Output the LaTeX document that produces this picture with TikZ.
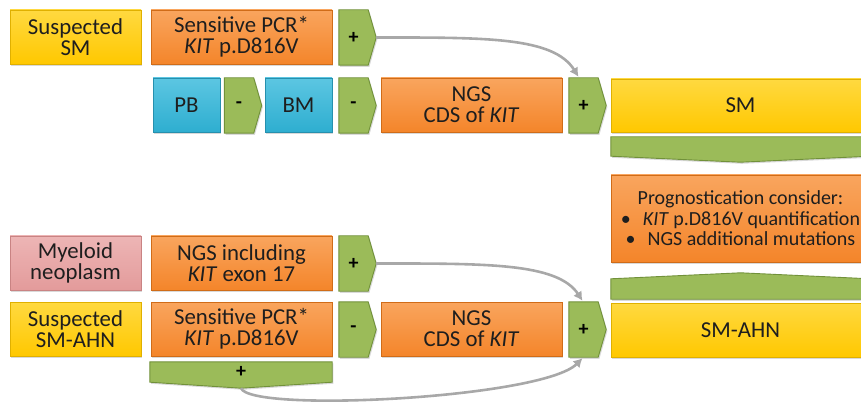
\documentclass[tikz,border=0pt]{standalone}
\usepackage{fontspec}
\setmainfont{Carlito}
\usetikzlibrary{calc,shadows,backgrounds,arrows.meta}
\definecolor{ylw}{HTML}{FFC800}
\definecolor{ylwtop}{HTML}{FFD940}
\definecolor{ylwbd}{HTML}{E0B000}
\definecolor{org}{HTML}{F4852A}
\definecolor{orgtop}{HTML}{F9A55E}
\definecolor{orgbd}{HTML}{D06C18}
\definecolor{blu}{HTML}{2EAED0}
\definecolor{blutop}{HTML}{5CC6E2}
\definecolor{blubd}{HTML}{2690AE}
\definecolor{grn}{HTML}{9BBB59}
\definecolor{grnbd}{HTML}{71913A}
\definecolor{pnk}{HTML}{E39B9B}
\definecolor{pnktop}{HTML}{EDB5B5}
\definecolor{pnkbd}{HTML}{C98383}
\definecolor{arr}{HTML}{A8A8A8}
\definecolor{txt}{HTML}{1E1E1E}
\begin{document}
\begin{tikzpicture}[x=1pt,y=-1pt,
  box/.style={rectangle, inner sep=0pt, align=center, text=txt,
    font=\fontsize{22.8}{21}\selectfont, line width=0.8pt,
    drop shadow={shadow xshift=1.2pt,shadow yshift=-1.6pt,opacity=0.3}},
  ybox/.style={box, draw=ylwbd, top color=ylwtop, bottom color=ylw},
  obox/.style={box, draw=orgbd, top color=orgtop, bottom color=org},
  bbox/.style={box, draw=blubd, top color=blutop, bottom color=blu},
  pbox/.style={box, draw=pnkbd, top color=pnktop, bottom color=pnk},
  chev/.style={rectangle, inner sep=0pt, minimum width=29pt, minimum height=55pt,
    font=\bfseries\fontsize{20}{20}\selectfont, text=black},
  band/.style={rectangle, inner sep=0pt, font=\bfseries\fontsize{20}{20}\selectfont, text=black},
  gfill/.style={fill=grn, draw=grnbd, line width=0.9pt,
    drop shadow={shadow xshift=1.2pt,shadow yshift=-1.6pt,opacity=0.3}},
  conn/.style={draw=arr, line width=2.6pt, -{Latex[length=9pt,width=10pt]}}]
\useasboundingbox (0,0) rectangle (861,403);
\clip (0,0) rectangle (861,403);
% row 1
\node[ybox, minimum width=131, minimum height=54] (ssm) at (75.5,37) {Suspected\\SM};
\node[obox, minimum width=181, minimum height=54] (pcr1) at (241.5,37) {Sensitive PCR*\\\textit{KIT} p.D816V};
\node[chev] (c1) at (353.5,37.5) {+};
% row 2
\node[bbox, minimum width=67, minimum height=54] (pb) at (186.5,105) {PB};
\node[chev] (c2) at (239,105.5) {-};
\node[bbox, minimum width=67, minimum height=54] (bm) at (298.5,105) {BM};
\node[chev] (c3) at (353.5,105.5) {-};
\node[obox, minimum width=181, minimum height=54] (ngs1) at (471.5,105) {NGS\\CDS of \textit{KIT}};
\node[chev] (c4) at (583.5,105.5) {+};
\node[ybox, minimum width=259, minimum height=53] (sm) at (740.5,105.5) {SM};
\node[band, minimum width=259, minimum height=19] (band1) at (740.5,146.5) {};
% prognostication
\node[obox, minimum width=259, minimum height=87, font=\fontsize{20}{20.5}\selectfont] (prog) at (740.5,218.5)
  {Prognostication consider:\\\textbullet\hspace{12pt}\textit{KIT} p.D816V quantification\\\textbullet\hspace{12pt}NGS additional mutations};
\node[band, minimum width=259, minimum height=20] (band2) at (740.5,289) {};
\node[ybox, minimum width=259, minimum height=54] (smahn) at (740.5,330) {SM-AHN};
% lower rows
\node[pbox, minimum width=131, minimum height=54] (mye) at (75.5,263) {Myeloid\\neoplasm};
\node[obox, minimum width=181, minimum height=54] (ngs2) at (241.5,263) {NGS including\\\textit{KIT} exon 17};
\node[chev] (c5) at (353.5,263.5) {+};
\node[ybox, minimum width=131, minimum height=54] (ssmahn) at (75.5,329) {Suspected\\SM-AHN};
\node[obox, minimum width=181, minimum height=54] (pcr2) at (241.5,329) {Sensitive PCR*\\\textit{KIT} p.D816V};
\node[chev] (c6) at (353.5,329.5) {-};
\node[obox, minimum width=181, minimum height=54] (ngs3) at (471.5,329) {NGS\\CDS of \textit{KIT}};
\node[chev] (c7) at (583.5,329.5) {+};
\node[band, minimum width=182, minimum height=20] (band3) at (241,372) {+};
% green shapes
\begin{pgfonlayer}{background}
\foreach \n in {c1,c2,c3,c4,c5,c6,c7}{
  \path[gfill] (\n.north west) -- (\n.north east) -- ($(\n.east)+(8,0)$) -- (\n.south east) -- (\n.south west) -- cycle;
}
\path[gfill] (band1.north west) -- (band1.north east) -- (band1.south east) -- ($(band1.south)+(0,6)$) -- (band1.south west) -- cycle;
\path[gfill] (band3.north west) -- (band3.north east) -- (band3.south east) -- ($(band3.south)+(0,6)$) -- (band3.south west) -- cycle;
\path[gfill] (band2.south west) -- (band2.north west) -- ($(band2.north)+(0,-6)$) -- (band2.north east) -- (band2.south east) -- cycle;
\end{pgfonlayer}
% connectors
\coordinate (t1) at ($(c1.east)+(8,0)$);
\coordinate (e1) at ($(c4.north)+(-5,-1)$);
\coordinate (t5) at ($(c5.east)+(8,0)$);
\coordinate (e5) at ($(c7.north)+(-1,-1)$);
\coordinate (t3) at ($(band3.south)+(0,6)$);
\coordinate (e3) at ($(c7.south)+(-1,1)$);
\draw[conn] (t1) .. controls ($(t1)+(110,0)$) and ($(e1)+(-25,-40)$) .. (e1);
\draw[conn] (t5) .. controls ($(t5)+(110,0)$) and ($(e5)+(-25,-38)$) .. (e5);
\draw[conn] (t3) .. controls ($(t3)+(10,25)$) and ($(e3)+(-40,40)$) .. (e3);
\end{tikzpicture}
\end{document}
